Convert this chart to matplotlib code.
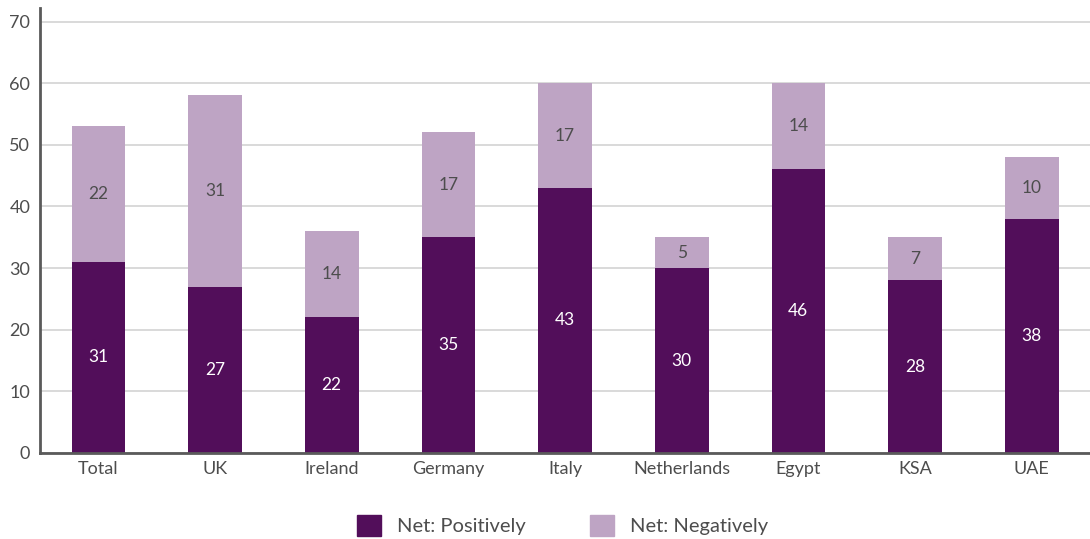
import matplotlib
matplotlib.use("Agg")
import matplotlib.pyplot as plt
from matplotlib.patches import Patch

categories = ["Total", "UK", "Ireland", "Germany", "Italy", "Netherlands", "Egypt", "KSA", "UAE"]
positively = [31, 27, 22, 35, 43, 30, 46, 28, 38]
negatively = [22, 31, 14, 17, 17, 5, 14, 7, 10]
yticks = [0, 10, 20, 30, 40, 50, 60, 70]

dark = "#520E5A"
light = "#BEA4C4"
text_col = "#4d4d4d"

plt.rcParams['font.family'] = ['Lato', 'DejaVu Sans']

fig = plt.figure(figsize=(10.9, 5.39), dpi=100)
ax = fig.add_axes([0.0367, 0.1596, 0.9633, 0.8256])

x = list(range(len(categories)))
w = 0.46
ax.bar(x, positively, width=w, color=dark, zorder=3)
ax.bar(x, negatively, width=w, bottom=positively, color=light, zorder=3)

for i, (p, n) in enumerate(zip(positively, negatively)):
    ax.text(i, p / 2, str(p), ha="center", va="center", color="white", fontsize=12.5, zorder=4)
    ax.text(i, p + n / 2, str(n), ha="center", va="center", color=text_col, fontsize=12.5, zorder=4)

ax.set_xlim(-0.5, len(categories) - 0.5)
ax.set_ylim(0, 72.2)
ax.set_yticks(yticks)
ax.set_yticklabels([str(t) for t in yticks])
ax.set_xticks(x)
ax.set_xticklabels(categories)
ax.tick_params(axis="both", length=0, labelsize=13, colors=text_col)
ax.tick_params(axis="y", pad=7)
ax.tick_params(axis="x", pad=6)
ax.grid(axis="y", color="#d9d9d9", linewidth=1.4, zorder=0)
for s in ["top", "right"]:
    ax.spines[s].set_visible(False)
for s in ["left", "bottom"]:
    ax.spines[s].set_color("#5a5a5a")
    ax.spines[s].set_linewidth(2)
    ax.spines[s].set_zorder(5)

handles = [Patch(color=dark, label="Net: Positively"), Patch(color=light, label="Net: Negatively")]
fig.legend(handles=handles, loc="center", bbox_to_anchor=(0.516, 0.025), ncol=2, frameon=False,
           fontsize=14.5, handlelength=1.2, handleheight=1.2, columnspacing=3.2, handletextpad=0.8,
           labelcolor=text_col)

fig.savefig("out.png", dpi=100)
